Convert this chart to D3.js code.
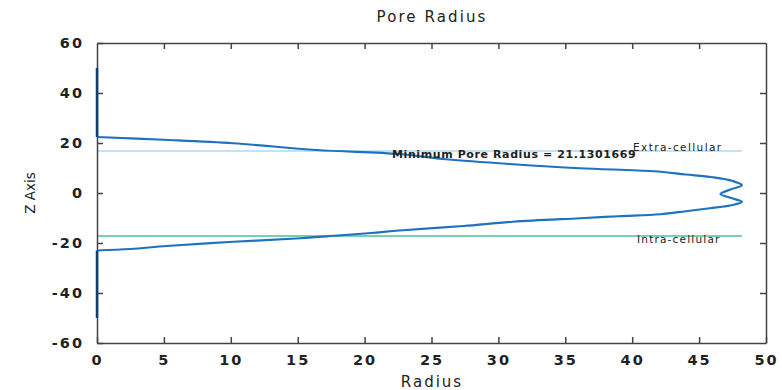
<!DOCTYPE html>
<html>
<head>
<meta charset="utf-8">
<script src="https://cdn.jsdelivr.net/npm/d3@7"></script>
<style>
  body { margin: 0; background: #fff; }
  text { font-family: "DejaVu Sans", sans-serif; fill: #222; }
</style>
</head>
<body>
<script>
var width = 782;
var height = 390;
var margin = {top: 43, right: 16, bottom: 47, left: 97};

// pore profile: z along the axis, radius at each z
var zValues = [-50, -23.0, -22.4, -21.2, -19.5, -18.1, -17.0, -16.0, -15.0, -13.2, -11.5, -10.1, -9.3, -8.5, -7.3, -6.1, -4.8, -3.5, -2.0, -0.4, 1.5, 3.1, 4.8, 6.3, 7.4, 8.7, 9.9, 11.5, 13.5, 15.6, 17.2, 19.9, 21.3, 22.4, 50];
var radiusValues = [0, 0, 2.5, 5.2, 10.2, 15.2, 18.0, 20.5, 22.6, 27.4, 31.1, 36.1, 39.0, 42.1, 44.0, 45.8, 47.5, 48.2, 47.4, 46.6, 47.4, 48.2, 47.5, 46.0, 44.0, 41.6, 36.1, 31.1, 26.1, 22.6, 16.4, 10.2, 5.0, 0, 0];

var xTicks = [0, 5, 10, 15, 20, 25, 30, 35, 40, 45, 50];
var yTicks = [-60, -40, -20, 0, 20, 40, 60];

// membrane boundaries
var boundaryNames = ["Extra-cellular", "Intra-cellular"];
var boundaryZ = [16.8, -17.2];
var boundaryEnd = 48.2;
var minRadiusLabel = "Minimum Pore Radius = 21.1301669";

var svg = d3.select("body")
    .append("svg")
    .attr("width", width)
    .attr("height", height);

var x = d3.scaleLinear().domain([0, 50]).range([margin.left, width - margin.right]);
var y = d3.scaleLinear().domain([-60, 60]).range([height - margin.bottom, margin.top]);

// boundary lines
var boundaryColors = ["#a9dcf2", "#78d0b4"];
svg.append("g")
    .selectAll("line")
    .data(boundaryZ)
    .enter()
    .append("line")
    .attr("x1", x(0))
    .attr("x2", x(boundaryEnd))
    .attr("y1", function(d) { return y(d); })
    .attr("y2", function(d) { return y(d); })
    .attr("stroke", function(d, i) { return boundaryColors[i]; })
    .attr("stroke-width", function(d, i) { return i == 0 ? 1.5 : 2; });

// axes with mirrored inward ticks
function axisText(g) {
    g.selectAll("text")
        .style("font-family", "DejaVu Sans, sans-serif")
        .style("font-size", "14.5px")
        .style("font-weight", "bold")
        .style("letter-spacing", "2px")
        .attr("fill", "#222");
}
var fmt = function(d) { return String(d); };
svg.append("g")
    .attr("transform", "translate(0," + y(-60) + ")")
    .call(d3.axisBottom(x).tickValues(xTicks).tickFormat(fmt).tickSizeInner(-6).tickSizeOuter(0).tickPadding(12))
    .call(axisText);
svg.append("g")
    .attr("transform", "translate(" + x(0) + ",0)")
    .call(d3.axisLeft(y).tickValues(yTicks).tickFormat(fmt).tickSizeInner(-6).tickSizeOuter(0).tickPadding(13))
    .call(axisText);
svg.append("g")
    .attr("transform", "translate(0," + y(60) + ")")
    .call(d3.axisTop(x).tickValues(xTicks.slice(1, -1)).tickSizeInner(-6).tickSizeOuter(0).tickFormat(""));
svg.append("g")
    .attr("transform", "translate(" + x(50) + ",0)")
    .call(d3.axisRight(y).tickValues(yTicks.slice(1, -1)).tickSizeInner(-6).tickSizeOuter(0).tickFormat(""));
svg.selectAll(".domain, .tick line").attr("stroke", "#444").attr("stroke-width", 1.5);

// pore profile curve
var pts = zValues.map(function(z, i) { return [radiusValues[i], z]; });
svg.append("path")
    .datum(pts.slice(1, -1))
    .attr("d", d3.line().x(function(d) { return x(d[0]); }).y(function(d) { return y(d[1]); }).curve(d3.curveCatmullRom.alpha(0.5)))
    .attr("fill", "none")
    .attr("stroke", "#1f72bf")
    .attr("stroke-width", 2.2);
// closed ends along the axis
svg.append("g")
    .selectAll("line")
    .data([[pts[0], pts[1]], [pts[pts.length - 2], pts[pts.length - 1]]])
    .enter()
    .append("line")
    .attr("x1", function(d) { return x(d[0][0]); })
    .attr("x2", function(d) { return x(d[1][0]); })
    .attr("y1", function(d) { return y(d[0][1]); })
    .attr("y2", function(d) { return y(d[1][1]); })
    .attr("stroke", "#123f73")
    .attr("stroke-width", 2.5);

// labels
svg.append("text")
    .attr("x", 392).attr("y", 158)
    .style("font-size", "11px").style("font-weight", "bold")
    .style("letter-spacing", "0.6px")
    .text(minRadiusLabel);
svg.selectAll(".blabel")
    .data(boundaryZ)
    .enter()
    .append("text")
    .attr("class", "blabel")
    .attr("x", function(d, i) { return i == 0 ? 633 : 637; })
    .attr("y", function(d, i) { return i == 0 ? 151 : 243; })
    .style("font-size", "10.5px")
    .style("letter-spacing", function(d, i) { return i == 0 ? "1.4px" : "1.2px"; })
    .text(function(d, i) { return boundaryNames[i]; });

svg.append("text")
    .attr("x", 432).attr("y", 22)
    .attr("text-anchor", "middle")
    .style("font-size", "15px")
    .style("letter-spacing", "2.1px")
    .text("Pore Radius");
svg.append("text")
    .attr("x", 432).attr("y", 387)
    .attr("text-anchor", "middle")
    .style("font-size", "15px")
    .style("letter-spacing", "2px")
    .text("Radius");
svg.append("text")
    .attr("transform", "translate(35," + y(0) + ") rotate(-90)")
    .attr("text-anchor", "middle")
    .style("font-size", "13.5px")
    .text("Z Axis");
</script>
</body>
</html>
